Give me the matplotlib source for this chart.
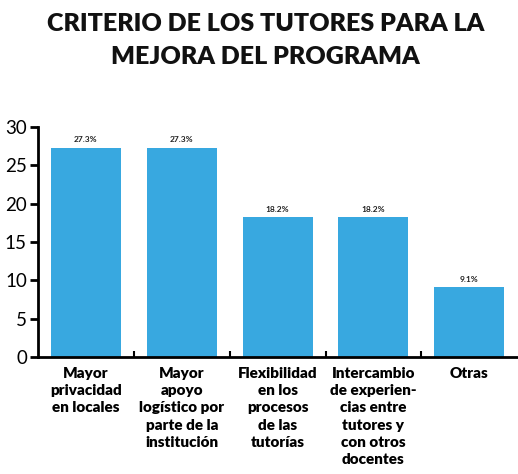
import matplotlib
matplotlib.use('Agg')
import matplotlib.pyplot as plt
import numpy as np

# datos del grafico
categorias = ['Mayor\nprivacidad\nen locales',
              'Mayor\napoyo\nlogístico por\nparte de la\ninstitución',
              'Flexibilidad\nen los\nprocesos\nde las\ntutorías',
              'Intercambio\nde experien-\ncias entre\ntutores y\ncon otros\ndocentes',
              'Otras']
valores = [27.3, 27.3, 18.2, 18.2, 9.1]
etiquetas = ['27.3%', '27.3%', '18.2%', '18.2%', '9.1%']
titulo = 'CRITERIO DE LOS TUTORES PARA LA\nMEJORA DEL PROGRAMA'

plt.rcParams['font.family'] = ['Lato', 'DejaVu Sans']
azul = '#38a8e0'

fig = plt.figure(figsize=(5.18, 4.74), dpi=100)
ax = fig.add_axes([0.0734, 0.2468, 0.925, 0.4852])

x = np.arange(len(valores))
barras = ax.bar(x, valores, width=0.73, color=azul)
for b, t in zip(barras, etiquetas):
    ax.text(b.get_x() + b.get_width() / 2, b.get_height() + 0.6, t,
            ha='center', va='bottom', fontsize=6, fontweight='bold', color='#222222')

ax.set_xlim(-0.5, len(valores) - 0.5)
ax.set_ylim(0, 30)
ax.set_yticks(range(0, 31, 5))
ax.tick_params(axis='y', labelsize=13.5, width=2, length=6, direction='out', pad=2)

# marcas entre categorias
ax.set_xticks(x[:-1] + 0.5)
ax.set_xticklabels([])
ax.tick_params(axis='x', direction='in', width=1.5, length=4)
for xi, c in zip(x, categorias):
    ax.text(xi, -1.3, c, ha='center', va='top', fontsize=11, fontweight='heavy',
            linespacing=1.38, transform=ax.transData)

for s in ['top', 'right']:
    ax.spines[s].set_visible(False)
for s in ['left', 'bottom']:
    ax.spines[s].set_linewidth(2)

fig.text(0.512, 0.972, titulo, ha='center', va='top', fontsize=18, fontweight='heavy',
         linespacing=1.6, color='#111111')

fig.savefig('out.png', dpi=100)
